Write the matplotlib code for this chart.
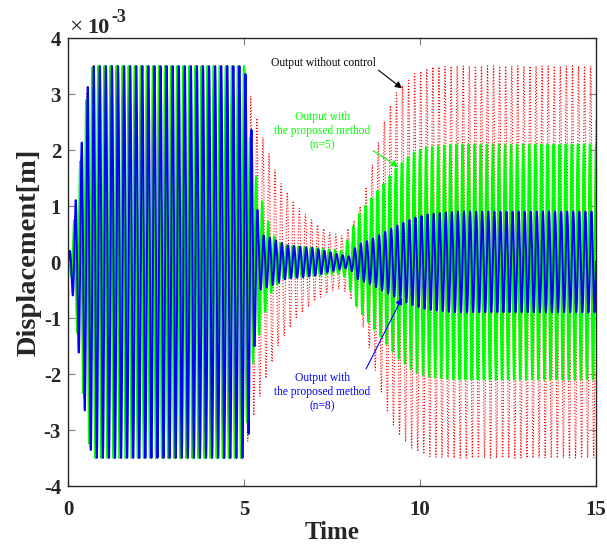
import numpy as np
import matplotlib
matplotlib.use("Agg")
import matplotlib.pyplot as plt

# ---------------- data ----------------
# envelope knots (time [s], amplitude [x1e-3 m]) for each output
t_red = [0, 0.1, 0.3, 0.55, 0.7, 5.0, 5.25, 5.55, 6.0, 6.5, 7.0, 7.45, 7.8, 8.2, 8.5, 8.8, 9.05, 9.35, 9.8, 10.3, 11.0, 15.0]
a_red = [0, 0.3, 1.4, 3.1, 3.5, 3.5, 2.8, 2.2, 1.45, 1.0, 0.7, 0.52, 0.47, 0.8, 1.4, 2.1, 2.65, 3.05, 3.35, 3.48, 3.5, 3.5]

t_green = [0, 0.1, 0.3, 0.55, 0.7, 5.0, 5.2, 5.35, 5.55, 5.8, 6.1, 7.0, 7.8, 8.05, 8.2, 8.5, 8.9, 9.35, 9.8, 10.2, 11.0, 15.0]
a_green = [0, 0.3, 1.5, 3.1, 3.5, 3.5, 2.0, 1.5, 1.0, 0.5, 0.3, 0.25, 0.2, 0.55, 0.8, 1.05, 1.35, 1.7, 1.95, 2.05, 2.1, 2.1]

t_blue = [0, 0.1, 0.3, 0.55, 0.7, 5.0, 5.15, 5.3, 5.45, 5.8, 6.2, 7.0, 7.6, 8.0, 8.2, 8.6, 8.9, 9.35, 9.8, 10.2, 11.0, 15.0]
a_blue = [0, 0.4, 1.6, 3.1, 3.5, 3.5, 3.0, 1.5, 0.5, 0.42, 0.3, 0.25, 0.15, 0.1, 0.3, 0.4, 0.5, 0.65, 0.78, 0.85, 0.9, 0.9]

freq_hz = 5.8          # carrier frequency of the disturbance
phase_red, phase_green, phase_blue = 0.8, 1.57, 0.0

x_ticks = [0, 5, 10, 15]
y_ticks = [-4, -3, -2, -1, 0, 1, 2, 3, 4]

# ---------------- figure ----------------
plt.rcParams['font.family'] = ['Liberation Serif', 'DejaVu Serif']
dark = '#262626'

fig = plt.figure(figsize=(6.07, 5.44), dpi=100)
ax = fig.add_axes([68/607, 1-486/544, (596-68)/607, (486-38)/544])

t = np.arange(0, 15.0001, 0.002)
y_red = np.interp(t, t_red, a_red) * np.sin(2*np.pi*freq_hz*t + phase_red)
y_green = np.interp(t, t_green, a_green) * np.sin(2*np.pi*freq_hz*t + phase_green)
y_blue = np.interp(t, t_blue, a_blue) * np.sin(2*np.pi*freq_hz*t + phase_blue)

ax.plot(t, y_red, color='red', linestyle=':', linewidth=0.8)
ax.plot(t, y_green, color='#00ff00', linewidth=1.5)
ax.plot(t, y_blue, color='#0000ff', linewidth=1.4)

ax.set_xlim(0, 15)
ax.set_ylim(-4, 4)
ax.set_xticks(x_ticks)
ax.set_yticks(y_ticks)
ax.set_xticklabels([str(v) for v in x_ticks], fontsize=15, fontweight='bold', color=dark)
ax.set_yticklabels([str(v) for v in y_ticks], fontsize=15, fontweight='bold', color=dark)
ax.tick_params(direction='in', length=5, width=0.8, color='#808080', top=True, right=True)
ax.tick_params(axis='x', pad=10)
ax.tick_params(axis='y', pad=5)
for s in ax.spines.values():
    s.set_color(dark)
    s.set_linewidth(1.0)

ax.set_xlabel('Time', fontsize=18, fontweight='bold', color=dark, labelpad=1)
ax.set_ylabel('Displacement[m]', fontsize=20.5, fontweight='bold', color=dark)
ax.yaxis.set_label_coords(-0.05, 0.522)

# exponent label
ax.text(0.003, 1.011, '\u00d7', transform=ax.transAxes, fontsize=17, color=dark, va='baseline', ha='left')
ax.text(0.036, 1.011, '10', transform=ax.transAxes, fontsize=16, fontweight='bold', color=dark, va='baseline', ha='left')
ax.text(0.083, 1.035, '-3', transform=ax.transAxes, fontsize=13, fontweight='bold', color=dark, va='baseline', ha='left')

# annotations
ax.annotate('Output without control', xy=(9.49, 3.1), xytext=(8.74, 3.55),
            fontsize=8.3, color='black', ha='right', va='center',
            arrowprops=dict(arrowstyle='-|>', color='black', lw=0.8, mutation_scale=10, shrinkA=0, shrinkB=0,
                            relpos=(1.0, 0.1)))
ax.annotate('Output with\nthe proposed method\n(n=5)', xy=(9.38, 1.70), xytext=(7.22, 2.34),
            fontsize=8.3, color='#00ff00', ha='center', va='center', linespacing=1.25,
            arrowprops=dict(arrowstyle='-|>', color='#00ff00', lw=0.8, mutation_scale=10, shrinkA=0, shrinkB=0,
                            relpos=(0.84, 0.3)))
ax.annotate('Output with\nthe proposed method\n(n=8)', xy=(9.49, -0.64), xytext=(7.22, -2.32),
            fontsize=8.3, color='#0000ff', ha='center', va='center', linespacing=1.25,
            arrowprops=dict(arrowstyle='-|>', color='#0000ff', lw=0.8, mutation_scale=10, shrinkA=0, shrinkB=0,
                            relpos=(0.9, 0.8)))

fig.savefig('out.png', dpi=100)
